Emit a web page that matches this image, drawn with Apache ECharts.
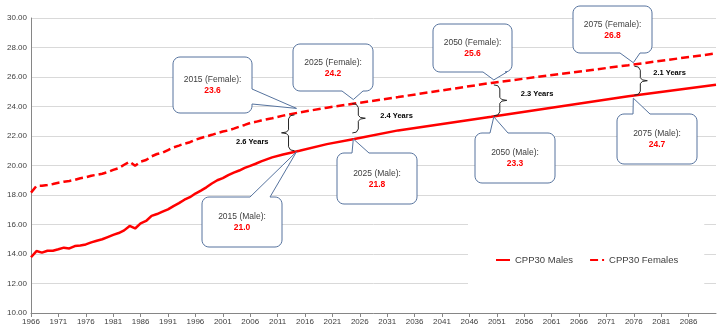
<!DOCTYPE html>
<html>
<head>
<meta charset="utf-8">
<script src="https://cdn.jsdelivr.net/npm/echarts@6/dist/echarts.min.js"></script>
<style>
  html, body { margin: 0; padding: 0; background: #fff; }
  #chart { width: 722px; height: 333px; }
</style>
</head>
<body>
<div id="chart"></div>
<script>
// CPP30 life expectancy at 65, history and projection
var years = [
  1966, 1967, 1968, 1969, 1970, 1971, 1972, 1973, 1974, 1975,
  1976, 1977, 1978, 1979, 1980, 1981, 1982, 1983, 1984, 1985,
  1986, 1987, 1988, 1989, 1990, 1991, 1992, 1993, 1994, 1995,
  1996, 1997, 1998, 1999, 2000, 2001, 2002, 2003, 2004, 2005,
  2006, 2007, 2008,
  2010, 2012, 2015, 2020, 2025, 2033, 2050, 2075, 2091
];
var males = [
  13.78, 14.20, 14.09, 14.22, 14.22, 14.32, 14.43, 14.38, 14.54, 14.58,
  14.65, 14.79, 14.90, 15.00, 15.15, 15.30, 15.42, 15.60, 15.90, 15.73,
  16.08, 16.24, 16.58, 16.71, 16.87, 17.03, 17.25, 17.45, 17.68, 17.85,
  18.10, 18.30, 18.52, 18.78, 19.00, 19.15, 19.35, 19.52, 19.66, 19.84,
  19.98, 20.12, 20.28,
  20.55, 20.75, 21.0, 21.45, 21.8, 22.38, 23.3, 24.7, 25.47
];
var females = [
  18.16, 18.62, 18.63, 18.68, 18.75, 18.83, 18.90, 18.95, 19.03, 19.14,
  19.20, 19.31, 19.37, 19.44, 19.55, 19.70, 19.82, 20.05, 20.26, 19.99,
  20.26, 20.37, 20.62, 20.78, 20.87, 21.05, 21.23, 21.35, 21.48, 21.58,
  21.75, 21.86, 21.97, 22.08, 22.20, 22.30, 22.38, 22.50, 22.63, 22.75,
  22.88, 22.96, 23.05,
  23.20, 23.38, 23.6, 23.92, 24.2, 24.64, 25.6, 26.8, 27.6
];
var seriesNames = ['CPP30 Males', 'CPP30 Females'];
var noteYears = [2015, 2025, 2050, 2075];

// callout boxes (pixel layout), pointer tip is offset from the data point
var femaleBoxes = [
  { x: 173, y: 57, w: 79, h: 56, side: 'right', b1: 89, b2: 104, dx: -3, dy: -4 },
  { x: 293, y: 44, w: 80, h: 47, side: 'bottom', b1: 342, b2: 363, dx: -1, dy: -4 },
  { x: 433, y: 24, w: 79, h: 48, side: 'bottom', b1: 483, b2: 507, dx: 2.5, dy: -3 },
  { x: 573, y: 6, w: 79, h: 47, side: 'bottom', b1: 620, b2: 640, dx: 5, dy: -2.5 }
];
var maleBoxes = [
  { x: 202, y: 197, w: 80, h: 50, side: 'top', b1: 250, b2: 270, dx: -3, dy: 1 },
  { x: 337, y: 153, w: 80, h: 51, side: 'top', b1: 352, b2: 369, dx: -1, dy: 0 },
  { x: 475, y: 133, w: 80, h: 50, side: 'top', b1: 490, b2: 508, dx: 2.5, dy: 0 },
  { x: 617, y: 114, w: 80, h: 50, side: 'top', b1: 633, b2: 650, dx: 5, dy: 2 }
];
// gap braces between the two lines
var braces = [
  { dx: -11, top: 2.5, bot: 0, dir: -1, lx: -20, ly: 9, align: 'right' },
  { dx: 4, top: 0, bot: -6, dir: 1, lx: 22, ly: -2.6, align: 'left' },
  { dx: 8.5, top: 2, bot: -1, dir: 1, lx: 21, ly: -6, align: 'left' },
  { dx: 12, top: 1, bot: -1, dir: 1, lx: 13, ly: -8, align: 'left' }
];

var FONT = '"Liberation Sans", Arial, sans-serif';

function pairs(vals) {
  return years.map(function (y, i) { return [y, vals[i]]; });
}

var chart = echarts.init(document.getElementById('chart'), null, { renderer: 'canvas' });

var option = {
  backgroundColor: '#ffffff',
  animation: false,
  textStyle: { fontFamily: FONT },
  grid: { left: 31, right: 6, top: 18, bottom: 20, containLabel: false, outerBoundsMode: 'none' },
  legend: {
    data: seriesNames,
    left: 468,
    top: 205,
    padding: [50, 26, 33, 27],
    itemGap: 16,
    itemWidth: 14,
    itemHeight: 6,
    backgroundColor: '#ffffff',
    itemStyle: { opacity: 0 },
    textStyle: { fontSize: 9.5, color: '#404040', fontFamily: FONT }
  },
  xAxis: {
    type: 'value',
    min: 1966,
    max: 2091,
    interval: 5,
    axisLine: { show: true, lineStyle: { color: '#868686', width: 1 } },
    axisTick: { show: true, length: 4, lineStyle: { color: '#868686' } },
    axisLabel: {
      fontSize: 8, color: '#404040', margin: 5,
      showMaxLabel: false, showMinLabel: true,
      formatter: function (v) { return String(v); }
    },
    splitLine: { show: false }
  },
  yAxis: {
    type: 'value',
    min: 10,
    max: 30,
    interval: 2,
    axisLine: { show: true, lineStyle: { color: '#868686', width: 1 } },
    axisTick: { show: false },
    axisLabel: {
      fontSize: 8, color: '#404040', margin: 4,
      formatter: function (v) { return v.toFixed(2); }
    },
    splitLine: { show: true, lineStyle: { color: '#d9d9d9', width: 1 } }
  },
  series: [
    {
      name: seriesNames[0],
      type: 'line',
      data: pairs(males),
      symbol: 'none',
      lineStyle: { color: '#ff0000', width: 2.5 },
      itemStyle: { color: '#ff0000' }
    },
    {
      name: seriesNames[1],
      type: 'line',
      data: pairs(females),
      symbol: 'none',
      lineStyle: { color: '#ff0000', width: 2.5, type: [8, 4] },
      itemStyle: { color: '#ff0000' }
    }
  ]
};
chart.setOption(option);

function valueAt(arr, yr) { return arr[years.indexOf(yr)]; }

function px(yr, v) {
  return chart.convertToPixel({ gridIndex: 0 }, [yr, v]);
}

// rounded box with a wedge pointer on one side
function bubblePoints(b, tip) {
  var r = 7, n = 6, pts = [];
  var x = b.x, y = b.y, R = b.x + b.w, B = b.y + b.h;
  function corner(cx, cy, a0) {
    for (var k = 0; k <= n; k++) {
      var a = (a0 + 90 * k / n) * Math.PI / 180;
      pts.push([cx + r * Math.cos(a), cy + r * Math.sin(a)]);
    }
  }
  corner(x + r, y + r, 180);
  if (b.side === 'top') { pts.push([b.b1, y], tip, [b.b2, y]); }
  corner(R - r, y + r, 270);
  if (b.side === 'right') { pts.push([R, b.b1], tip, [R, b.b2]); }
  corner(R - r, B - r, 0);
  if (b.side === 'bottom') { pts.push([b.b2, B], tip, [b.b1, B]); }
  corner(x + r, B - r, 90);
  return pts;
}

function bubble(b, yr, label, val, anchor) {
  var tip = [anchor[0] + b.dx, anchor[1] + b.dy];
  var cx = b.x + b.w / 2, cy = b.y + b.h / 2;
  return [
    {
      type: 'polygon', z: 100,
      shape: { points: bubblePoints(b, tip) },
      style: { fill: '#ffffff', stroke: '#56739e', lineWidth: 1 }
    },
    {
      type: 'text', z: 101, x: cx, y: cy - 5,
      style: { text: yr + ' (' + label + '):', fill: '#404040', font: '8.5px ' + FONT, align: 'center', verticalAlign: 'middle' }
    },
    {
      type: 'text', z: 101, x: cx, y: cy + 6,
      style: { text: val.toFixed(1), fill: '#ff0000', font: 'bold 8.5px ' + FONT, align: 'center', verticalAlign: 'middle' }
    }
  ];
}

function brace(c, pf, pm, gap) {
  var sx = pf[0] + c.dx;
  var top = pf[1] + c.top, bot = pm[1] + c.bot, mid = (top + bot) / 2;
  var d = c.dir, h = -d;
  var pts = [
    [sx + 6 * h, top], [sx + 2 * h, top + 0.8], [sx, top + 4],
    [sx, mid - 3], [sx + 2 * d, mid - 0.8], [sx + 7 * d, mid],
    [sx + 2 * d, mid + 0.8], [sx, mid + 3],
    [sx, bot - 4], [sx + 2 * h, bot - 0.8], [sx + 6 * h, bot]
  ];
  return [
    {
      type: 'polyline', z: 90,
      shape: { points: pts },
      style: { stroke: '#262626', lineWidth: 1, fill: null }
    },
    {
      type: 'text', z: 91, x: sx + c.lx, y: mid + c.ly,
      style: { text: gap.toFixed(1) + ' Years', fill: '#000000', font: 'bold 7.5px ' + FONT, align: c.align, verticalAlign: 'middle' }
    }
  ];
}

var elements = [];
noteYears.forEach(function (yr, i) {
  var f = valueAt(females, yr), m = valueAt(males, yr);
  var pf = px(yr, f), pm = px(yr, m);
  elements = elements.concat(brace(braces[i], pf, pm, f - m));
  elements = elements.concat(bubble(femaleBoxes[i], yr, 'Female', f, pf));
  elements = elements.concat(bubble(maleBoxes[i], yr, 'Male', m, pm));
});

chart.setOption({ graphic: { elements: elements } });
</script>
</body>
</html>
